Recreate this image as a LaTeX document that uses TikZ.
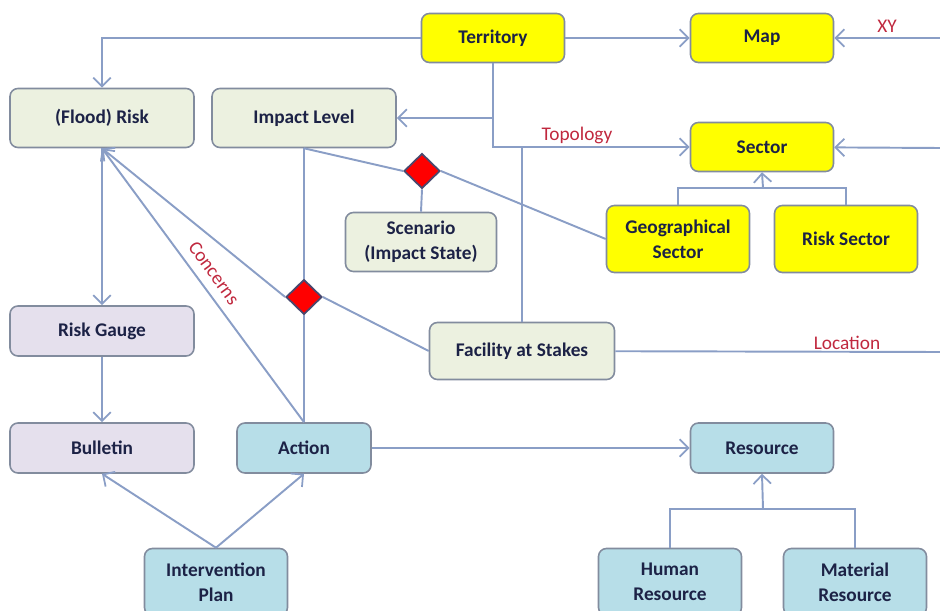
\documentclass[tikz,border=0pt]{standalone}
\usepackage{fontspec}
\setmainfont{Carlito}
\usepackage{tikz}
\usetikzlibrary{arrows.meta}
\usetikzlibrary{shapes.geometric}
\usepackage{xcolor}

\definecolor{wirecol}{RGB}{138,158,198}
\definecolor{edgecol}{RGB}{130,140,158}
\definecolor{textcol}{RGB}{28,34,70}
\definecolor{labcol}{RGB}{192,40,62}
\definecolor{sage}{RGB}{236,241,224}
\definecolor{lemon}{RGB}{255,255,0}
\definecolor{lilac}{RGB}{229,224,237}
\definecolor{sky}{RGB}{183,222,232}

\begin{document}
\begin{tikzpicture}
	[x=0.02cm, y=-0.02cm, line width=1.1pt, color=wirecol,
	>={Straight Barb[length=5pt,width=10pt,line width=1pt]},
	box/.style = {
		draw=edgecol, line width=0.9pt, rounded corners=4.5pt, align=center,
		font=\fontsize{11}{14}\selectfont\bfseries, text=textcol,
		minimum width=2.86cm, minimum height=0.98cm, inner sep=0pt
	},
	wide/.style = {
		minimum width=3.68cm, minimum height=1.18cm
	},
	twoline/.style = {
		minimum width=2.86cm, minimum height=1.34cm
	},
	rel/.style = {
		diamond, draw={rgb,255:red,72;green,72;blue,110}, fill=red,
		line width=1pt, inner sep=0pt, minimum width=0.72cm, minimum height=0.7cm
	},
	lab/.style = {
		text=labcol, font=\fontsize{11}{13}\selectfont
	}]
	\clip (0,0) rectangle (940,611);
	
	%Draw nodes
	\node[box, fill=lemon] at (493,38) (terr) {Territory};
	\node[box, fill=lemon] at (762,38) (map) {Map};
	\node[box, wide, fill=sage] at (102,118) (flood) {(Flood) Risk};
	\node[box, wide, fill=sage] at (304,118) (impact) {Impact Level};
	\node[box, fill=lemon] at (762,147) (sector) {Sector};
	\node[box, wide, fill=sage, minimum width=3.02cm] at (421,242) (scen) {Scenario\\(Impact State)};
	\node[box, twoline, fill=lemon] at (678,239) (geo) {Geographical\\Sector};
	\node[box, twoline, fill=lemon] at (846,239) (risksec) {Risk Sector};
	\node[box, wide, fill=lilac, minimum height=1cm] at (102,331) (gauge) {Risk Gauge};
	\node[box, wide, fill=sage, minimum width=3.7cm, minimum height=1.14cm] at (522,351) (facil) {Facility at Stakes};
	\node[box, wide, fill=lilac, minimum height=1cm] at (102,448) (bull) {Bulletin};
	\node[box, fill=sky, minimum width=2.68cm, minimum height=1cm] at (304,448) (action) {Action};
	\node[box, fill=sky, minimum height=1cm] at (762,448) (res) {Resource};
	\node[box, twoline, fill=sky] at (216,582) (plan) {Intervention\\Plan};
	\node[box, twoline, fill=sky] at (670,582) (human) {Human\\Resource};
	\node[box, twoline, fill=sky] at (855,582) (mat) {Material\\Resource};
	\node[rel] at (422,171) (dia1) {};
	\node[rel] at (304,297) (dia2) {};
	\coordinate (xyin) at (940,38);
	\coordinate (secin) at (940,148);
	\coordinate (locout) at (940,352);
	\coordinate (secbar) at (763,188);
	\coordinate (resbar) at (763,509);
	
	%Draw wires
	\draw[->] (terr.west) -| (flood.north);
	\draw[->] (terr) -- (map);
	\draw[->] (xyin) -- (map);
	\draw[->] (terr.south) |- (sector.west);
	\draw[->] (terr.south |- impact.east) -- (impact.east);
	\draw (facil.north |- sector.west) -- (facil.north);
	\draw[->] (secin) -- (sector);
	\draw (geo.north) |- (secbar) -| (risksec.north);
	\draw[->] (secbar) -- (sector.south);
	\draw (impact.south) -- (dia1.west);
	\draw (dia1.east) -- (geo.west);
	\draw (dia1.south) -- (scen.north);
	\draw (impact.south) -- (dia2.north);
	\draw (dia2.south) -- (action.north);
	\draw[->] (dia2.west) -- (flood.south);
	\draw (dia2.east) -- (facil.west);
	\draw[->] (action.north) -- (flood.south);
	\draw[->] (flood) -- (gauge);
	\draw[->] (gauge) -- (bull);
	\draw[->] (plan.north) -- (bull.south);
	\draw[->] (plan.north) -- (action.south);
	\draw[->] (action) -- (res);
	\draw (human.north) |- (resbar) -| (mat.north);
	\draw[->] (resbar) -- (res.south);
	\draw (facil) -- (locout);
	
	%Draw labels
	\node[lab] at (887,26) (xylab) {XY};
	\node[lab] at (577,135) (topolab) {Topology};
	\node[lab] at (847,343) (loclab) {Location};
	\node[lab, rotate=-54] at (214,273) (conlab) {Concerns};
\end{tikzpicture}
\end{document}
